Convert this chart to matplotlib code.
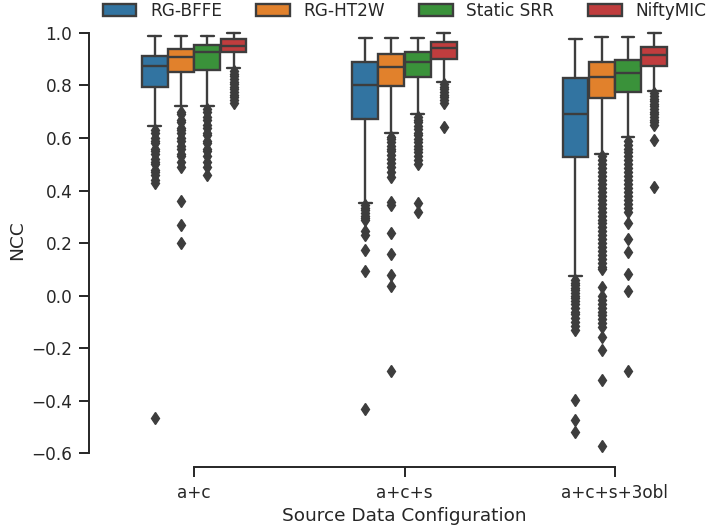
import matplotlib
matplotlib.use('Agg')
import matplotlib.pyplot as plt
import seaborn as sns
from matplotlib.patches import Patch

sns.set_theme(style='ticks', context='notebook')
plt.rcParams['font.family'] = ['DejaVu Sans']

configs = ['a+c', 'a+c+s', 'a+c+s+3obl']
methods = ['RG-BFFE', 'RG-HT2W', 'Static SRR', 'NiftyMIC']
colors = ['#3274a1', '#e1812c', '#3a923a', '#c03d3e']
gray = '#3d3d3d'
yticks = [-0.6, -0.4, -0.2, 0.0, 0.2, 0.4, 0.6, 0.8, 1.0]

# (lower whisker, q1, median, q3, upper whisker) per config
bffe_box = [(0.647, 0.795, 0.875, 0.914, 0.99),
            (0.354, 0.672, 0.800, 0.888, 0.98),
            (0.074, 0.526, 0.691, 0.830, 0.977)]
ht2w_box = [(0.720, 0.850, 0.907, 0.940, 0.99),
            (0.618, 0.798, 0.872, 0.920, 0.98),
            (0.539, 0.751, 0.834, 0.888, 0.986)]
srr_box = [(0.720, 0.859, 0.926, 0.954, 0.99),
           (0.690, 0.834, 0.888, 0.926, 0.98),
           (0.603, 0.776, 0.849, 0.897, 0.986)]
nifty_box = [(0.865, 0.929, 0.952, 0.977, 0.999),
             (0.815, 0.900, 0.942, 0.965, 0.999),
             (0.780, 0.874, 0.916, 0.946, 0.999)]

bffe_fliers = [
    [0.63, 0.62, 0.60, 0.59, 0.58, 0.56, 0.55, 0.54, 0.52, 0.51, 0.50,
     0.48, 0.47, 0.46, 0.44, 0.43, -0.465],
    [0.345, 0.335, 0.325, 0.315, 0.305, 0.295, 0.287, 0.245, 0.232,
     0.173, 0.094, -0.43],
    [0.06, 0.05, 0.04, 0.03, 0.02, 0.01, 0.0, -0.01, -0.02, -0.03, -0.045,
     -0.06, -0.07, -0.085, -0.10, -0.115, -0.13, -0.398, -0.474, -0.519],
]
ht2w_fliers = [
    [0.70, 0.69, 0.67, 0.66, 0.64, 0.63, 0.62, 0.60, 0.59, 0.57, 0.56,
     0.54, 0.53, 0.51, 0.49, 0.36, 0.27, 0.20],
    [0.605, 0.595, 0.585, 0.57, 0.56, 0.55, 0.535, 0.52, 0.505, 0.49,
     0.47, 0.45, 0.355, 0.345, 0.237, 0.158, 0.078, 0.036, -0.287],
    [0.53, 0.515, 0.50, 0.485, 0.47, 0.455, 0.44, 0.425, 0.41, 0.395,
     0.38, 0.365, 0.35, 0.335, 0.32, 0.305, 0.29, 0.275, 0.26, 0.245,
     0.23, 0.215, 0.20, 0.185, 0.17, 0.155, 0.14, 0.125, 0.11, 0.10,
     0.035, 0.0, -0.015, -0.03, -0.045, -0.06, -0.075, -0.09, -0.105,
     -0.12, -0.157, -0.208, -0.322, -0.573],
]
srr_fliers = [
    [0.71, 0.70, 0.68, 0.67, 0.65, 0.64, 0.62, 0.61, 0.59, 0.58, 0.56,
     0.55, 0.53, 0.51, 0.49, 0.46],
    [0.68, 0.67, 0.66, 0.645, 0.635, 0.62, 0.61, 0.595, 0.585, 0.57,
     0.56, 0.545, 0.53, 0.515, 0.50, 0.354, 0.32],
    [0.59, 0.575, 0.56, 0.545, 0.53, 0.515, 0.50, 0.485, 0.47, 0.455,
     0.44, 0.425, 0.41, 0.395, 0.38, 0.365, 0.35, 0.335, 0.32, 0.276,
     0.215, 0.167, 0.082, 0.018, -0.287],
]
nifty_fliers = [
    [0.855, 0.845, 0.835, 0.825, 0.815, 0.805, 0.795, 0.785, 0.775, 0.765,
     0.755, 0.745, 0.735],
    [0.805, 0.795, 0.785, 0.775, 0.765, 0.755, 0.745, 0.735, 0.643],
    [0.77, 0.76, 0.75, 0.74, 0.73, 0.72, 0.71, 0.70, 0.69, 0.68, 0.67,
     0.66, 0.65, 0.592, 0.414],
]

all_boxes = [bffe_box, ht2w_box, srr_box, nifty_box]
all_fliers = [bffe_fliers, ht2w_fliers, srr_fliers, nifty_fliers]

fig = plt.figure(figsize=(7.09, 5.32), dpi=100)
ax = fig.add_axes([89 / 709, 65 / 532, 631 / 709, 454.5 / 532])

lw = 1.7
box_w = 0.5 / len(methods)
for j, (boxes, fliers) in enumerate(zip(all_boxes, all_fliers)):
    stats = []
    for (lo, q1, med, q3, hi), fl in zip(boxes, fliers):
        stats.append(dict(whislo=lo, q1=q1, med=med, q3=q3, whishi=hi, fliers=fl))
    pos = [i + (j - 1.5) * box_w for i in range(len(configs))]
    ax.bxp(stats, positions=pos, widths=box_w * 0.98, patch_artist=True,
           manage_ticks=False,
           boxprops=dict(facecolor=colors[j], edgecolor=gray, linewidth=lw),
           whiskerprops=dict(color=gray, linewidth=lw),
           capprops=dict(color=gray, linewidth=lw),
           medianprops=dict(color=gray, linewidth=lw),
           flierprops=dict(marker='d', markersize=6, markerfacecolor=gray,
                           markeredgecolor=gray, linestyle='none'))

ax.set_xlim(-0.5, len(configs) - 0.5)
ax.set_xticks(range(len(configs)))
ax.set_xticklabels(configs)
ax.set_yticks(yticks)
ax.tick_params(labelsize=12.2, colors='.15', width=1.4, length=7.5, pad=4.5)
ax.set_xlabel('Source Data Configuration', fontsize=13.3, color='.15')
ax.set_ylabel('NCC', fontsize=13.3, color='.15')
for s in ['left', 'bottom']:
    ax.spines[s].set_linewidth(1.4)
    ax.spines[s].set_color('.15')
sns.despine(ax=ax, trim=True)

handles = [Patch(facecolor=c, edgecolor=gray, linewidth=lw, label=m)
           for c, m in zip(colors, methods)]
fig.legend(handles=handles, loc='center', ncol=4, frameon=False,
           fontsize=12.2, bbox_to_anchor=(404.5 / 709, 1 - 11 / 532))

fig.savefig('out.png', dpi=100)
